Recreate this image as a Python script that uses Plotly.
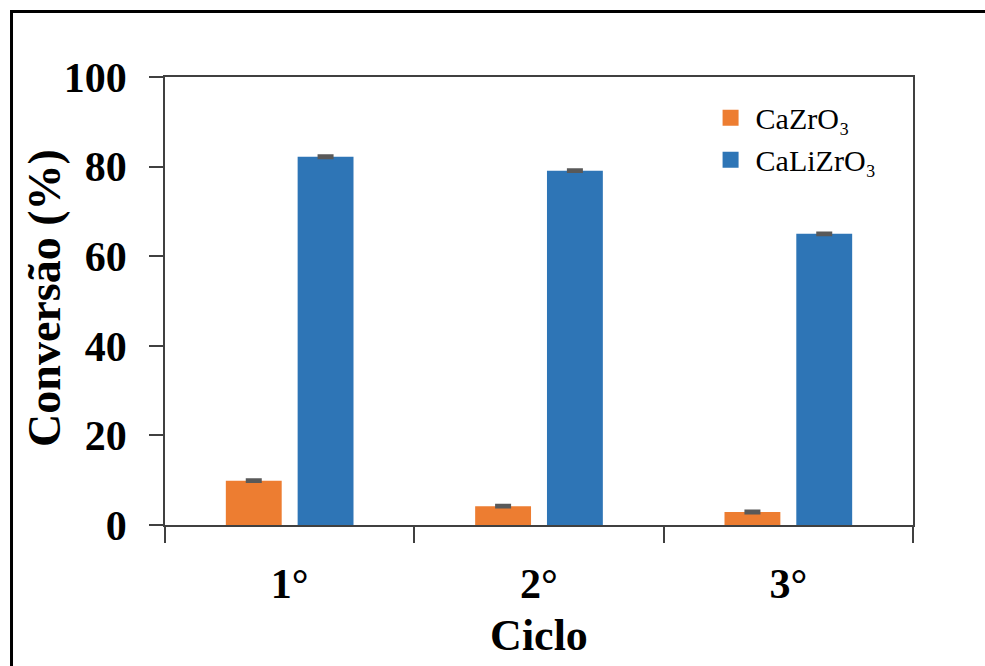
import plotly.graph_objects as go

ciclos = ["1°", "2°", "3°"]
cazro3 = [9.9, 4.2, 2.9]
calizro3 = [82.2, 79.1, 65.0]
err_cazro3 = [0.2, 0.2, 0.2]
err_calizro3 = [0.2, 0.2, 0.2]
names = ["CaZrO₃", "CaLiZrO₃"]
colors = ["#ED7D31", "#2E75B6"]

fig = go.Figure()
for vals, errs, col in [(cazro3, err_cazro3, colors[0]), (calizro3, err_calizro3, colors[1])]:
    fig.add_trace(go.Bar(
        x=ciclos, y=vals, marker=dict(color=col, line=dict(width=0)),
        error_y=dict(type="data", array=errs, visible=True, color="#595959", thickness=3, width=8),
        showlegend=False,
    ))
# legend entries (square swatches)
for nm, col in zip(names, colors):
    fig.add_trace(go.Scatter(
        x=[None], y=[None], mode="markers", name=nm,
        marker=dict(symbol="square", size=16, color=col),
    ))

axis_line = "#404040"
serif = "Liberation Serif"

fig.update_layout(
    width=985, height=666,
    margin=dict(l=165, r=72, t=77, b=141),
    paper_bgcolor="white", plot_bgcolor="white",
    barmode="group", bargap=0.424, bargroupgap=0.222,
    font=dict(family=serif, color="black"),
    legend=dict(
        x=0.7227, y=0.967, xanchor="left", yanchor="top",
        font=dict(family=serif, size=30, color="black"),
        bgcolor="rgba(0,0,0,0)", itemwidth=40, tracegroupgap=0,
    ),
    xaxis=dict(
        range=[-0.5, 2.5], showline=True, linecolor=axis_line, linewidth=1.5, mirror=True,
        ticks="outside", tickson="boundaries", ticklen=16, tickwidth=1.5, tickcolor=axis_line,
        tickfont=dict(family=serif, size=42, color="black", weight="bold"),
        ticklabelstandoff=21,
        title=dict(text="Ciclo", font=dict(family=serif, size=44, color="black", weight="bold"), standoff=13),
        showgrid=False, zeroline=False,
    ),
    yaxis=dict(
        range=[0, 100], dtick=20, showline=True, linecolor=axis_line, linewidth=1.5, mirror=True,
        ticks="outside", ticklen=14, tickwidth=1.5, tickcolor=axis_line,
        tickfont=dict(family=serif, size=42, color="black", weight="bold"),
        ticklabelstandoff=14,
        showgrid=False, zeroline=False,
    ),
    annotations=[
        dict(text="Conversão (%)", xref="paper", yref="paper", x=-0.1604, y=0.507,
             xanchor="center", yanchor="middle", textangle=-90, showarrow=False,
             font=dict(family=serif, size=46, color="black", weight="bold")),
    ],
    shapes=[
        dict(type="line", xref="paper", yref="paper", x0=-0.2052, x1=1.1, y0=1.1462, y1=1.1462,
             line=dict(color="black", width=3)),
        dict(type="line", xref="paper", yref="paper", x0=-0.2052, x1=-0.2052, y0=1.1495, y1=-0.32,
             line=dict(color="black", width=3)),
    ],
)

fig.write_html("out.html")
